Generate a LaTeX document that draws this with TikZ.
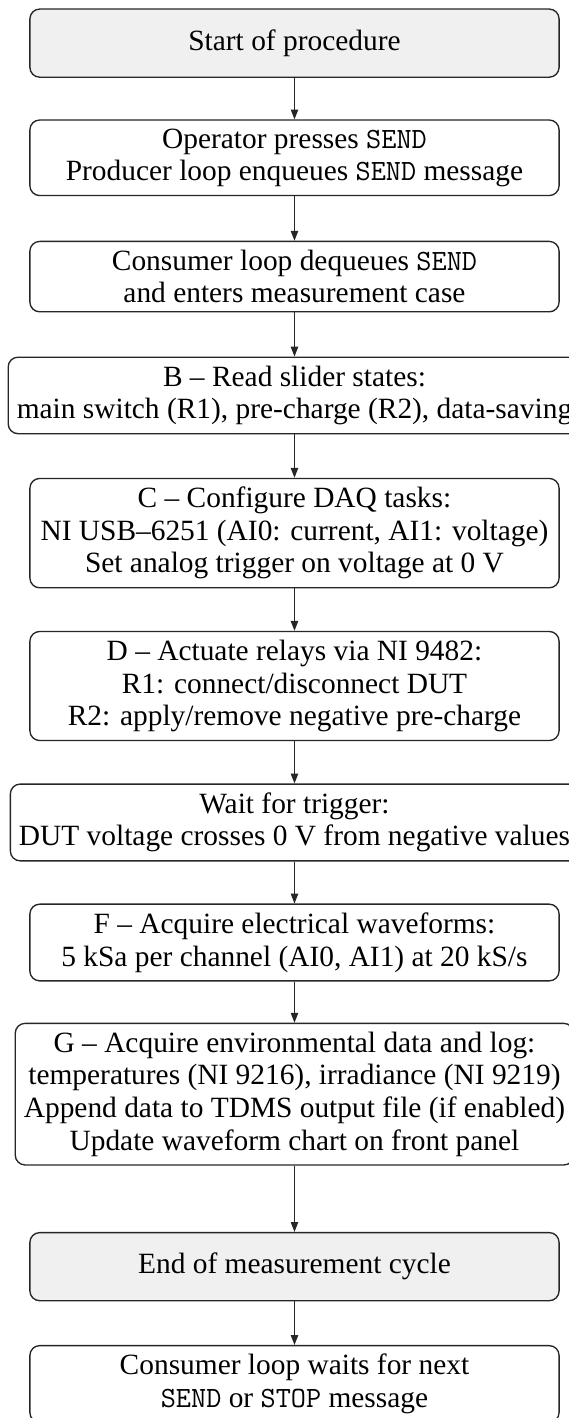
\documentclass[tikz,border=0pt]{standalone}
\usepackage{fontspec}
\setmainfont{Liberation Serif}
\usetikzlibrary{arrows.meta}
\begin{document}
\begin{tikzpicture}[x=1pt,y=1pt,
  stepbox/.style={draw=black!85, line width=0.55pt, rounded corners=4pt, align=center,
    minimum width=216pt, minimum height=27.8pt, inner xsep=3.5pt, inner ysep=3.5pt,
    font=\fontsize{12}{13.3}\selectfont, fill=white},
  termbox/.style={stepbox, fill=black!6},
  flow/.style={-{Triangle[length=4pt,width=3pt]}, line width=0.5pt, draw=black!85}]
\useasboundingbox (0,0) rectangle (232.24,-578.78);
\clip (0,0) rectangle (232.24,-578.78);
\node[termbox] (start) at (120.2,-17.6) {Start of procedure};
\node[stepbox] (press) at (120.2,-64.4) {Operator presses \texttt{SEND}\\Producer loop enqueues \texttt{SEND} message};
\node[stepbox] (deq) at (120.2,-112.9) {Consumer loop dequeues \texttt{SEND}\\and enters measurement case};
\node[stepbox] (readb) at (120.2,-161.4) {B -- Read slider states:\\main switch (R1), pre-charge (R2), data-saving};
\node[stepbox] (confc) at (120.2,-217.6) {C -- Configure DAQ tasks:\\NI USB--6251 (AI0: current, AI1: voltage)\\Set analog trigger on voltage at 0~V};
\node[stepbox] (actd) at (120.2,-280.0) {D -- Actuate relays via NI 9482:\\R1: connect/disconnect DUT\\R2: apply/remove negative pre-charge};
\node[stepbox] (wait) at (120.2,-335.7) {Wait for trigger:\\DUT voltage crosses 0~V from negative values};
\node[stepbox] (acqf) at (120.2,-384.7) {F -- Acquire electrical waveforms:\\5 kSa per channel (AI0, AI1) at 20 kS/s};
\node[stepbox] (acqg) at (120.2,-446.6) {G -- Acquire environmental data and log:\\temperatures (NI 9216), irradiance (NI 9219)\\Append data to TDMS output file (if enabled)\\Update waveform chart on front panel};
\node[termbox] (endc) at (120.2,-517.0) {End of measurement cycle};
\node[stepbox] (next) at (120.2,-564.9) {Consumer loop waits for next\\\texttt{SEND} or \texttt{STOP} message};
\draw[flow] (start) -- (press);
\draw[flow] (press) -- (deq);
\draw[flow] (deq) -- (readb);
\draw[flow] (readb) -- (confc);
\draw[flow] (confc) -- (actd);
\draw[flow] (actd) -- (wait);
\draw[flow] (wait) -- (acqf);
\draw[flow] (acqf) -- (acqg);
\draw[flow] (acqg) -- (endc);
\draw[flow] (endc) -- (next);
\end{tikzpicture}
\end{document}
